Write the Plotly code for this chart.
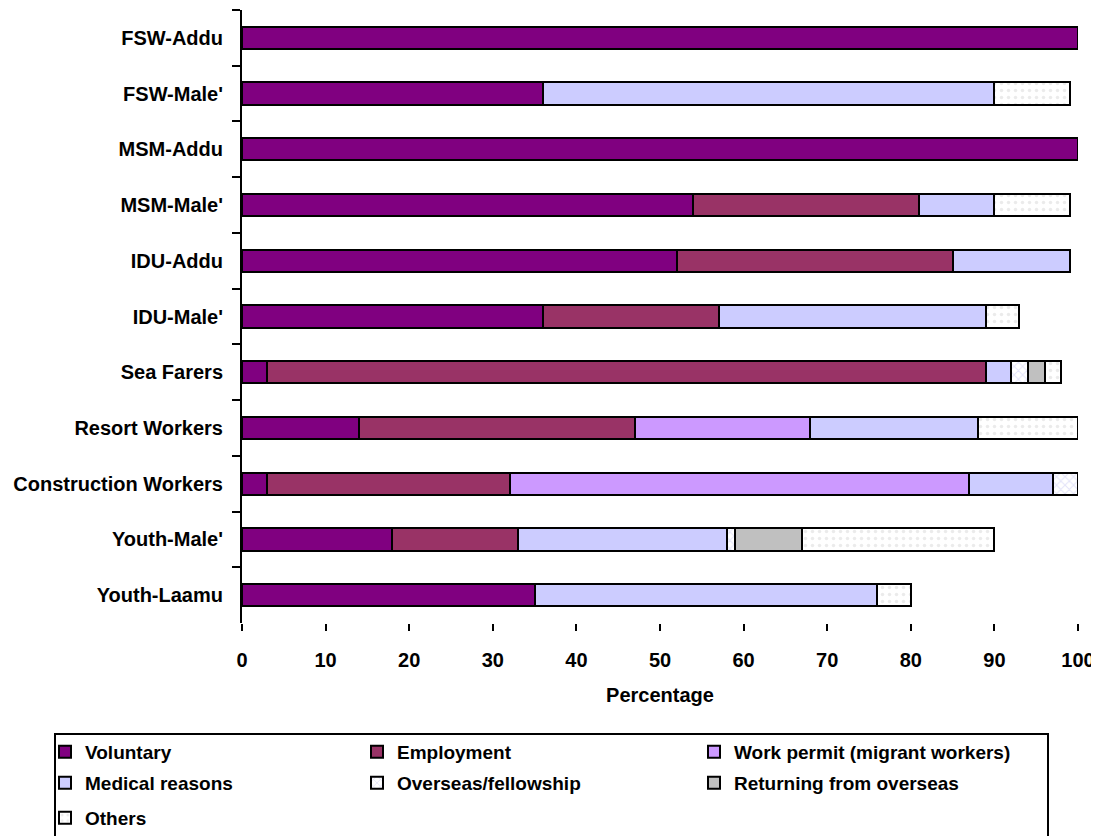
import plotly.graph_objects as go

categories = ["FSW-Addu", "FSW-Male'", "MSM-Addu", "MSM-Male'", "IDU-Addu", "IDU-Male'",
              "Sea Farers", "Resort Workers", "Construction Workers", "Youth-Male'", "Youth-Laamu"]

voluntary   = [100, 36, 100, 54, 52, 36, 3, 14, 3, 18, 35]
employment  = [None, None, None, 27, 33, 21, 86, 33, 29, 15, None]
work_permit = [None, None, None, None, None, None, None, 21, 55, None, None]
medical     = [None, 54, None, 9, 14, 32, 3, 20, 10, 25, 41]
overseas    = [None, None, None, None, None, None, 2, None, 3, 1, None]
returning   = [None, None, None, None, None, None, 2, None, None, 8, None]
others      = [None, 9, None, 9, None, 4, 2, 12, None, 23, 4]

series_names = ["Voluntary", "Employment", "Work permit (migrant workers)", "Medical reasons",
                "Overseas/fellowship", "Returning from overseas", "Others"]
series_values = [voluntary, employment, work_permit, medical, overseas, returning, others]
colors = ["#800080", "#993366", "#CC99FF", "#CCCCFF", "#FFFFFF", "#C0C0C0", "#FFFFFF"]
patterns = [None, None, None, None,
            dict(shape="x", fgcolor="#C8C8F4", bgcolor="#FFFFFF", size=6, solidity=0.3),
            None,
            dict(shape=".", fgcolor="#D8D8D8", bgcolor="#FFFFFF", size=7, solidity=0.2)]

FONT = "Arial, 'Liberation Sans', sans-serif"

# figure geometry (page has an 8px body margin)
W, H = 1091, 828
ML, MR, MT, MB = 234, 21, 2, 213
PW = W - ML - MR
PH = H - MT - MB
OFF = 8

def px_to_paper_x(page_x):
    return (page_x - OFF - ML) / PW

def px_to_paper_y(page_y):
    return (H - MB - (page_y - OFF)) / PH

# legend item layout (page pixels): text start x, row centre y
legend_text_x = [80, 392, 729, 80, 392, 729, 80]
legend_row_y = [752, 752, 752, 783, 783, 783, 818]

fig = go.Figure()
for i, (name, vals, col, pat) in enumerate(zip(series_names, series_values, colors, patterns)):
    marker = dict(color=col, line=dict(color="black", width=2))
    if pat:
        marker["pattern"] = pat
    lg = "legend" if i == 0 else f"legend{i + 1}"
    fig.add_trace(go.Bar(y=categories, x=vals, name=name, orientation="h",
                         marker=marker, legend=lg, showlegend=True))

legend_layout = {}
for i in range(len(series_names)):
    key = "legend" if i == 0 else f"legend{i + 1}"
    legend_layout[key] = dict(
        x=px_to_paper_x(legend_text_x[i] - 35), xanchor="left",
        y=px_to_paper_y(legend_row_y[i]), yanchor="middle",
        bgcolor="rgba(0,0,0,0)", borderwidth=0, visible=True,
        font=dict(family=FONT, size=19, color="black", weight="bold"),
        itemwidth=30,
    )

fig.update_layout(
    width=W, height=H, showlegend=True,
    barmode="stack", bargap=0.6,
    plot_bgcolor="white", paper_bgcolor="white",
    font=dict(family=FONT, size=19, color="black", weight="bold"),
    margin=dict(l=ML, r=MR, t=MT, b=MB, autoexpand=False),
    **legend_layout,
)

# legend frame (runs off the bottom edge, as in the original)
fig.add_shape(type="rect", xref="paper", yref="paper",
              x0=px_to_paper_x(55), x1=px_to_paper_x(1048),
              y0=px_to_paper_y(734), y1=px_to_paper_y(870),
              line=dict(color="black", width=2), fillcolor="rgba(0,0,0,0)", layer="below")

fig.update_yaxes(
    categoryorder="array", categoryarray=categories, autorange="reversed",
    showline=True, linecolor="black", linewidth=2,
    ticks="outside", tickson="boundaries", ticklen=8, tickwidth=2, tickcolor="black",
    ticklabelstandoff=13, showgrid=False, zeroline=False,
    tickfont=dict(family=FONT, size=20, color="black", weight="bold"),
)
fig.update_xaxes(
    range=[0, 100], dtick=10, tick0=0,
    showline=False, showgrid=False, zeroline=False,
    ticks="outside", ticklen=7, tickwidth=2, tickcolor="black",
    ticklabelstandoff=12,
    tickfont=dict(family=FONT, size=20, color="black", weight="bold"),
    title=dict(text="Percentage", standoff=17,
               font=dict(family=FONT, size=20, color="black", weight="bold")),
)

fig.write_html("out.html")
